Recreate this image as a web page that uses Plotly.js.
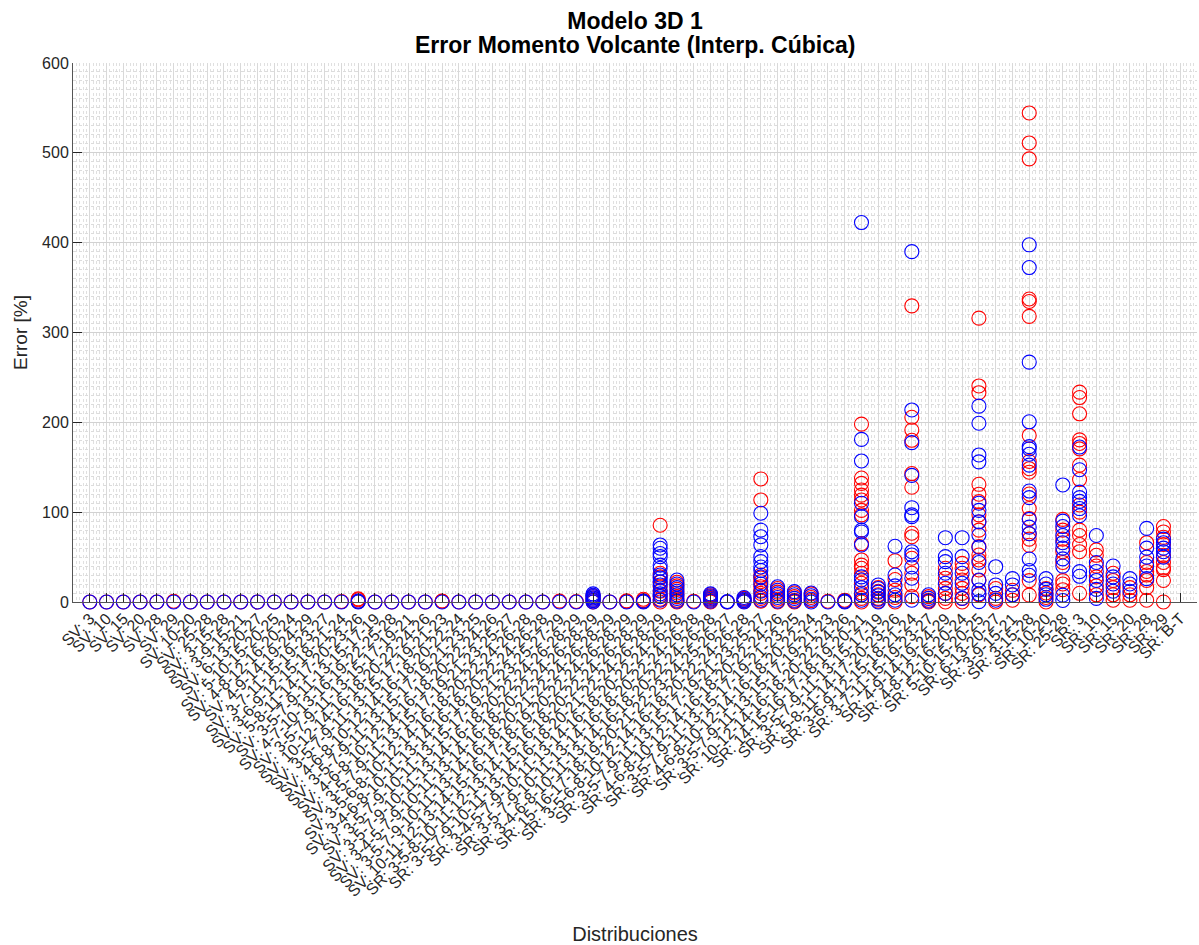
<!DOCTYPE html>
<html>
<head>
<meta charset="utf-8">
<script src="https://cdn.plot.ly/plotly-3.0.1.min.js"></script>
<style>html,body{margin:0;padding:0;background:#fff;}#chart{width:1199px;height:945px;}</style>
</head>
<body>
<div id="chart"></div>
<script>
const titleLines = ["Modelo 3D 1", "Error Momento Volcante (Interp. Cúbica)"];

const categories = [
  "SV: 3","SV: 10","SV: 15","SV: 20","SV: 28","SV: 29",
  "SV: 10-20","SV: 25-28","SV: 3-15-28","SV: 3-9-15-21","SV: 6-13-20-27","SV: 5-10-15-20-25",
  "SV: 4-8-12-16-20-24","SV: 4-9-14-19-24-29","SV: 3-7-11-15-19-23-27",
  "SV: 3-6-9-12-15-18-21-24","SV: 5-8-11-14-17-20-23-26","SV: 3-5-7-9-11-13-15-17-19",
  "SV: 4-7-10-13-16-19-22-25-28","SV: 3-5-7-9-11-13-15-17-19-21",
  "SV: 10-12-14-16-18-20-22-24-26","SV: 3-5-7-9-11-13-15-17-19-21-23",
  "SV: 4-6-8-10-12-14-16-18-20-22-24","SV: 3-5-7-9-11-13-15-17-19-21-23-25",
  "SV: 4-6-8-10-12-14-16-18-20-22-24-26","SV: 3-5-7-9-11-13-15-17-19-21-23-25-27",
  "SV: 3-5-6-8-10-12-14-16-18-20-22-24-26-28","SV: 3-4-6-8-10-11-13-14-16-18-20-22-24-26-28",
  "SV: 3-5-7-9-10-11-13-15-17-19-21-23-25-27-29","SV: 3-5-7-9-10-11-13-14-16-18-20-22-24-26-28-29",
  "SV: 3-4-5-7-9-10-11-13-14-16-18-20-22-24-26-28-29","SV: 3-5-7-9-10-11-13-14-16-18-20-21-22-24-26-28-29",
  "SV: 10-11-12-13-14-15-16-17-18-19-20-22-24-26-28-29",
  "SR: 3-5-8-10-11-12-13-14-15-16-18-20-22-24-26-28-29",
  "SR: 3-5-7-9-10-11-13-14-16-18-20-21-22-24-26-28-29",
  "SR: 3-4-5-7-9-10-11-13-14-16-18-20-22-24-26-28",
  "SR: 3-5-7-9-10-11-13-14-16-18-20-22-24-26-28",
  "SR: 3-4-6-8-10-11-13-14-16-18-20-22-24-26-28",
  "SR: 15-16-17-18-19-20-21-22-23-24-25-26-27",
  "SR: 3-5-6-8-10-12-14-16-18-20-22-24-26-28","SR: 3-5-7-9-11-13-15-17-19-21-23-25-27",
  "SR: 4-6-8-10-12-14-16-18-20-22-24-26","SR: 3-5-7-9-11-13-15-17-19-21-23-25",
  "SR: 4-6-8-10-12-14-16-18-20-22-24","SR: 3-5-7-9-11-13-15-17-19-21-23",
  "SR: 10-12-14-16-18-20-22-24-26","SR: 14-15-16-17-18-19-20-21",
  "SR: 3-5-7-9-11-13-15-17-19","SR: 5-8-11-14-17-20-23-26","SR: 3-6-9-12-15-18-21-24",
  "SR: 3-7-11-15-19-23-27","SR: 4-9-14-19-24-29","SR: 4-8-12-16-20-24","SR: 5-10-15-20-25",
  "SR: 6-13-20-27","SR: 3-9-15-21","SR: 3-15-28","SR: 10-20","SR: 25-28",
  "SR: 3","SR: 10","SR: 15","SR: 20","SR: 28","SR: 29","SR: B-T"
];

// Blue series: error values per category (same order as categories)
const blueVals = [
  [0],[0],[0],[0],[0],[0],
  [0],[0],[0],[0],[0],[0],[0],[0],[0],[0],[0,1],[0],[0],[0],[0],[0],[0],[0],[0],[0],[0],[0],[0],[0],
  [0,1.5,3,4.5,6,7.5,9],
  [0],[0],[0,1],
  [63.5,59.8,54,50.5,41,37.5,30,26.7,22.6,19,13,9,6,2],
  [24.5,20,16,12,8,4,1],
  [0],
  [9,7,5,3,1],
  [0,0.5],
  [5,3,1.5,0],
  [98.8,80,72.7,63.5,50.5,45,39,35,28,20,12,6,2],
  [17,13,9,5,1],
  [11.5,8,4,1],
  [10,7,3,0],
  [0],
  [0,1],
  [422.4,181,157,110,95,80,78,63.5,28,24.5,16,8,2],
  [19,15,11,7,3,0],
  [62,30,18,8,2],
  [390,213.8,177.4,141,105,97,95,56,52.3,39,26.4,2],
  [8,4,1],
  [71.6,50.5,45,32,20.8,9.6],
  [71.6,50.5,32,20.8,4],
  [218,199,163.7,156,110,102,89.4,74.6,61,44,24.5,13.4,9,0.4],
  [39.3,19,9.6,2],
  [26,19,8],
  [397.6,372.3,267,200.6,173,170.5,164.5,152.4,123.5,116.2,92,83.3,76,47.9,35,29.8],
  [26,20,14,8,3],
  [130.3,90,84,74,66,60,48,40,7.7,1.7],
  [172.5,147.2,122.3,116.2,112,104,96,33.8,28.6],
  [74,44,34,24,14,4],
  [40,28,20,12],
  [26,20,12],
  [82,60,50,40,26],
  [70,66,60,56,50],
  []
];

// Red series: error values per category (same order as categories)
const redVals = [
  [0],[0],[0],[0],[0],[0.8],
  [0],[0],[0],[0],[0],[0],[0],[0],[0],[0.5],[0.5,2.5,3.5],[0],[0],[0],[0],[0.8,1],[0],[0],[0],[0],[0],[0],[1],[0.5],
  [0,2,4.5,7],
  [0],[0.6,1.2],[0.5,1.5,3],
  [85.4,32,28,22,17,12,7,3,0],
  [22,18,14,10,6,2,0],
  [0.8],
  [8,6,4,2,0],
  [0],
  [4,2,0.5],
  [137,113.6,30,26.7,22.6,17,13,9.6,4,1],
  [15,11,7,3,0],
  [10,6,2,0],
  [9,5,1.5],
  [0.8],
  [0.5,2],
  [198,138,132,124.7,119,113.6,102,97,65,46.8,41,37.5,32,20.8,10,4,0],
  [16,12,8,4,1],
  [46,25,13,5,0],
  [329.6,205.6,191.5,180,143,127.7,76.5,72.7,48.7,32,19,6],
  [6,2,0],
  [37.5,26.4,15.2,9.6,4,0],
  [43,37.5,24.5,15.2,9.6,4,0],
  [316,240.5,233,131,120,111.7,97,89,80,61.6,52.3,46.8,35.6,24,8],
  [15,4,0],
  [13,8,2],
  [544.4,511,493.3,337.3,334.5,318,185.4,156.4,148.4,144.4,120.2,104,93,76,70,63.1,23.8,7.7],
  [15,10,5,0],
  [92,80,70,56,44,23.8,20,13.7],
  [233.6,227.6,209.5,180.5,176.5,170.5,152.4,136.3,108,100,80,74,64,56,9.7],
  [58,52,40,28,18,8],
  [32,24,16,8,2],
  [16,8,2],
  [66,44,34,30,24,16,2],
  [84,78,72,64,52,44,38,36,24,0],
  []
];

function flatten(vals) {
  const xs = [], ys = [];
  vals.forEach((arr, i) => arr.forEach(v => { xs.push(i + 1); ys.push(v); }));
  return {xs, ys};
}
const r = flatten(redVals), b = flatten(blueVals);
const font = 'Liberation Sans, Arial, Helvetica, sans-serif';
const ink = '#262626';

const traces = [
  {type: 'scatter', mode: 'markers', x: r.xs, y: r.ys, cliponaxis: false, hoverinfo: 'skip',
   marker: {symbol: 'circle-open', size: 14, color: 'rgb(255,0,0)', line: {width: 1.1, color: 'rgb(255,0,0)'}}},
  {type: 'scatter', mode: 'markers', x: b.xs, y: b.ys, cliponaxis: false, hoverinfo: 'skip',
   marker: {symbol: 'circle-open', size: 14, color: 'rgb(0,0,255)', line: {width: 1.1, color: 'rgb(0,0,255)'}}}
];

const layout = {
  width: 1199, height: 945,
  margin: {l: 73, r: 2, t: 63, b: 343, pad: 0},
  paper_bgcolor: '#ffffff', plot_bgcolor: '#ffffff',
  showlegend: false,
  font: {family: font, color: ink},
  title: {
    text: '<b>' + titleLines[0] + '</b>',
    x: 0.5, xref: 'paper', xanchor: 'center',
    y: 1 - 21 / 945, yref: 'container', yanchor: 'middle',
    font: {family: font, size: 23, color: '#000'}
  },
  annotations: [{
    text: '<b>' + titleLines[1] + '</b>',
    xref: 'paper', yref: 'paper', x: 0.5, y: (602 - 45.5) / 539,
    xanchor: 'center', yanchor: 'middle', showarrow: false,
    font: {family: font, size: 23, color: '#000'}
  }],
  xaxis: {
    range: [0, 67], tickmode: 'array',
    tickvals: categories.map((c, i) => i + 1), ticktext: categories,
    tickangle: -45, ticks: 'inside', ticklen: 9, tickwidth: 1, tickcolor: ink,
    tickfont: {family: font, size: 16, color: ink},
    showline: true, linecolor: '#555555', linewidth: 1, mirror: false,
    showgrid: true, gridcolor: '#d9d9d9', gridwidth: 1, zeroline: false,
    minor: {dtick: 0.2, showgrid: true, gridcolor: '#e0e0e0', griddash: 'dot', gridwidth: 1},
    automargin: false, fixedrange: true,
    title: {text: 'Distribuciones', font: {family: font, size: 20, color: ink}, standoff: 33}
  },
  yaxis: {
    range: [0, 600], dtick: 100, tick0: 0,
    ticks: 'inside', ticklen: 9, tickwidth: 1, tickcolor: ink,
    tickfont: {family: font, size: 16, color: ink},
    showline: true, linecolor: '#555555', linewidth: 1,
    showgrid: true, gridcolor: '#d2d2d2', gridwidth: 1, zeroline: false,
    minor: {dtick: 10, showgrid: true, gridcolor: '#dcdcdc', griddash: 'dot', gridwidth: 1},
    automargin: false, fixedrange: true,
    title: {text: 'Error [%]', font: {family: font, size: 19, color: ink}, standoff: 9}
  }
};

Plotly.newPlot('chart', traces, layout, {staticPlot: true, displayModeBar: false});
</script>
</body>
</html>
